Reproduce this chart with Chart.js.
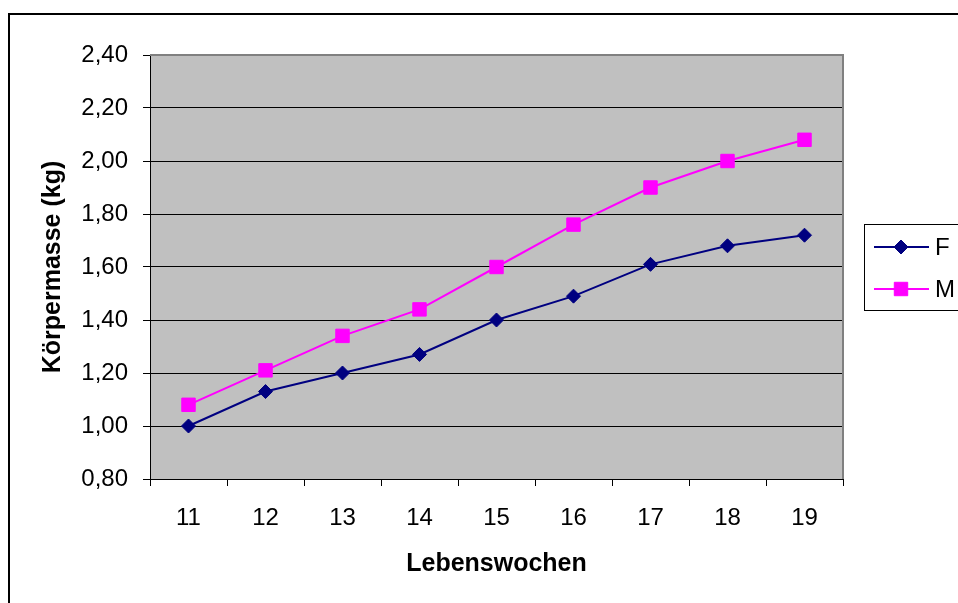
<!DOCTYPE html>
<html lang="de">

<head>
    <meta charset="UTF-8">
    <title>Körpermasse</title>
    <style>
        body { margin: 0; background: #fff; }
        canvas { display: block; }
    </style>
</head>

<body>

    <canvas id="myChart" width="958" height="603"></canvas>

    <script src="https://cdnjs.cloudflare.com/ajax/libs/Chart.js/4.4.1/chart.umd.js"></script>

    <script>
        // data
        var weeks = ['11', '12', '13', '14', '15', '16', '17', '18', '19'];
        var massF = [1.00, 1.13, 1.20, 1.27, 1.40, 1.49, 1.61, 1.68, 1.72];
        var massM = [1.08, 1.21, 1.34, 1.44, 1.60, 1.76, 1.90, 2.00, 2.08];
        var seriesNames = ['F', 'M'];
        var yTickLabels = ['0,80', '1,00', '1,20', '1,40', '1,60', '1,80', '2,00', '2,20', '2,40'];

        var FONT = 'Arial, "Liberation Sans", sans-serif';

        // frame, grey plot background and plot border
        var frame = {
            id: 'frame',
            beforeDraw: function (chart) {
                var ctx = chart.ctx, a = chart.chartArea;
                ctx.save();
                ctx.fillStyle = '#fff';
                ctx.fillRect(0, 0, chart.width, chart.height);
                ctx.strokeStyle = '#000';
                ctx.lineWidth = 2;
                ctx.strokeRect(9, 14, 1000, 1000);
                ctx.fillStyle = '#c0c0c0';
                ctx.fillRect(a.left, a.top, a.right - a.left, a.bottom - a.top);
                ctx.restore();
            },
            beforeDatasetsDraw: function (chart) {
                var ctx = chart.ctx, a = chart.chartArea;
                ctx.save();
                ctx.strokeStyle = '#808080';
                ctx.lineWidth = 2;
                ctx.beginPath();
                ctx.moveTo(a.left, a.top);
                ctx.lineTo(a.right, a.top);
                ctx.lineTo(a.right, a.bottom);
                ctx.stroke();
                ctx.restore();
            }
        };

        // legend box on the right, line + marker samples
        var sideLegend = {
            id: 'sideLegend',
            afterDraw: function (chart) {
                var ctx = chart.ctx;
                ctx.save();
                ctx.strokeStyle = '#000';
                ctx.lineWidth = 1;
                ctx.strokeRect(864.5, 224.5, 200, 86);
                ctx.font = '24px ' + FONT;
                ctx.textBaseline = 'middle';
                chart.data.datasets.forEach(function (ds, i) {
                    var y = 247 + i * 42;
                    ctx.strokeStyle = ds.borderColor;
                    ctx.lineWidth = 2;
                    ctx.beginPath();
                    ctx.moveTo(874, y);
                    ctx.lineTo(929, y);
                    ctx.stroke();
                    ctx.fillStyle = ds.pointBackgroundColor;
                    ctx.strokeStyle = ds.pointBorderColor;
                    ctx.lineWidth = 1;
                    Chart.helpers.drawPoint(ctx, {
                        pointStyle: ds.pointStyle,
                        radius: ds.pointRadius,
                        rotation: 0,
                        borderWidth: 1
                    }, 901, y);
                    ctx.fillStyle = '#000';
                    ctx.fillText(ds.label, 935, y + 1);
                });
                ctx.restore();
            }
        };

        document.addEventListener("DOMContentLoaded", function () {
            var ctx = document.getElementById('myChart').getContext('2d');

            new Chart(ctx, {
                type: 'line',
                data: {
                    labels: weeks,
                    datasets: [
                        {
                            label: seriesNames[0],
                            data: massF,
                            borderColor: '#000080',
                            borderWidth: 2,
                            pointStyle: 'rectRot',
                            pointRadius: 7,
                            pointBackgroundColor: '#000080',
                            pointBorderColor: '#000080',
                            pointBorderWidth: 1,
                            tension: 0
                        },
                        {
                            label: seriesNames[1],
                            data: massM,
                            borderColor: '#ff00ff',
                            borderWidth: 2,
                            pointStyle: 'rect',
                            pointRadius: 9.5,
                            pointBackgroundColor: '#ff00ff',
                            pointBorderColor: '#ff00ff',
                            pointBorderWidth: 1,
                            tension: 0
                        }
                    ]
                },
                options: {
                    responsive: false,
                    animation: false,
                    events: [],
                    layout: { padding: { top: 55, right: 115, bottom: 0, left: 0 } },
                    plugins: {
                        legend: { display: false },
                        tooltip: { enabled: false }
                    },
                    scales: {
                        x: {
                            offset: true,
                            grid: {
                                offset: true,
                                drawOnChartArea: false,
                                drawTicks: true,
                                tickLength: 7,
                                color: '#000',
                                lineWidth: 1
                            },
                            border: { color: '#000', width: 1 },
                            ticks: {
                                color: '#000',
                                font: { family: FONT, size: 24 },
                                padding: 18,
                                maxRotation: 0
                            },
                            title: {
                                display: true,
                                text: 'Lebenswochen',
                                color: '#000',
                                font: { family: FONT, size: 25, weight: 'bold' },
                                padding: { top: 0, bottom: 24 }
                            },
                            afterFit: function (scale) { scale.height = 124; }
                        },
                        y: {
                            min: 0.8,
                            max: 2.4,
                            ticks: {
                                stepSize: 0.2,
                                color: '#000',
                                font: { family: FONT, size: 24 },
                                padding: 15,
                                callback: function (v, i) { return yTickLabels[i]; }
                            },
                            grid: {
                                color: '#000',
                                lineWidth: 1,
                                tickLength: 7
                            },
                            border: { color: '#000', width: 1 },
                            title: {
                                display: true,
                                text: 'Körpermasse (kg)',
                                color: '#000',
                                font: { family: FONT, size: 25, weight: 'bold' },
                                padding: { top: 38, bottom: 0 }
                            },
                            afterFit: function (scale) { scale.width = 150; }
                        }
                    }
                },
                plugins: [frame, sideLegend]
            });
        });
    </script>
</body>

</html>
